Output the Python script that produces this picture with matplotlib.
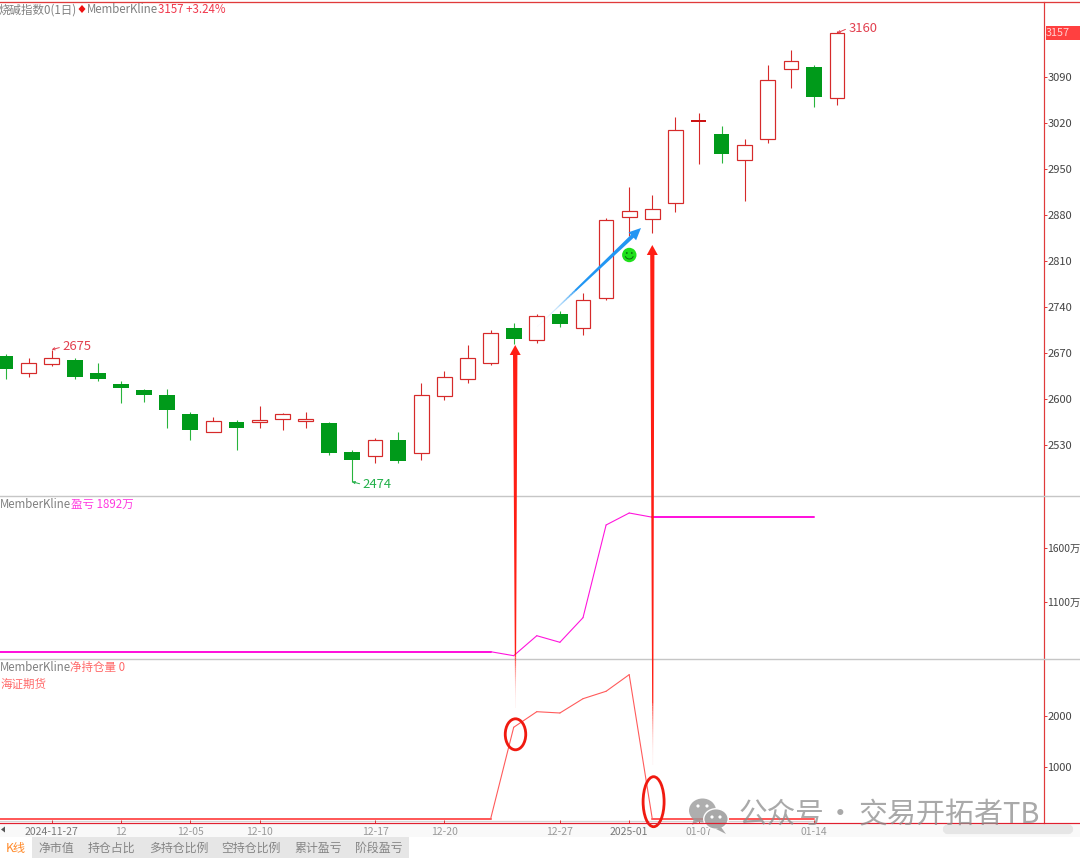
import matplotlib
matplotlib.use("Agg")
import matplotlib.pyplot as plt
import numpy as np
from matplotlib.collections import LineCollection
from matplotlib.patches import Arc, Circle, Ellipse, FancyBboxPatch, Polygon, Rectangle

plt.rcParams["font.family"] = ["Noto Sans CJK SC", "DejaVu Sans"]

W, H = 1080, 858
PX = 0.72  # one pixel in points at dpi 100

# candles, oldest first
highs = [2668, 2662, 2675, 2662, 2655, 2628, 2615, 2615, 2580, 2572, 2568, 2590, 2579,
         2580, 2565, 2522, 2540, 2550, 2625, 2643, 2682, 2705, 2715, 2729, 2734, 2761,
         2875, 2922, 2911, 3029, 3036, 3016, 2995, 3108, 3131, 3109, 3160]
opens = [2665, 2639, 2653, 2659, 2640, 2622, 2614, 2606, 2577, 2549, 2565, 2565, 2569,
         2566, 2564, 2519, 2513, 2538, 2517, 2605, 2631, 2654, 2708, 2690, 2730, 2708,
         2753, 2877, 2874, 2898, 3023, 3004, 2963, 2996, 3102, 3106, 3058]
closes = [2646, 2655, 2663, 2634, 2630, 2616, 2606, 2583, 2553, 2566, 2555, 2568, 2577,
          2569, 2517, 2507, 2537, 2506, 2606, 2633, 2663, 2701, 2691, 2726, 2714, 2750,
          2872, 2886, 2889, 3009, 3023, 2973, 2987, 3085, 3114, 3059, 3157]
lows = [2630, 2634, 2650, 2631, 2628, 2594, 2595, 2556, 2538, 2549, 2522, 2555, 2552,
        2556, 2515, 2474, 2503, 2503, 2507, 2598, 2625, 2651, 2684, 2685, 2709, 2697,
        2750, 2848, 2852, 2885, 2958, 2959, 2901, 2990, 3074, 3045, 3048]

price_ticks = [3090, 3020, 2950, 2880, 2810, 2740, 2670, 2600, 2530]

# lower panels, first value sits one bar left of the visible window, last at index 35
pnl_wan = [640] * 23 + [603, 788, 727, 955, 1813, 1924] + [1885] * 8
net_pos = [0] * 23 + [1777, 2079, 2054, 2331, 2475, 2797] + [0] * 8
pnl_ticks = [1600, 1100]
pos_ticks = [2000, 1000]

date_idx = [2, 5, 8, 11, 16, 19, 24, 27, 30, 35]
date_labels = ["2024-11-27", "12", "12-05", "12-10", "12-17", "12-20", "12-27",
               "2025-01", "01-07", "01-14"]
tab_names = ["净市值", "持仓占比", "多持仓比例", "空持仓比例", "累计盈亏", "阶段盈亏"]
tab_x = [56.5, 111.5, 179, 251, 318, 379]

RED = "#d62a2a"
GREEN = "#009a1a"
GREEN_WICK = "#28b43c"
AXIS_RED = "#e03a3a"
MAGENTA = "#ff14dc"
SALMON = "#ff5a5a"
GRAY_TEXT = "#808080"

fig = plt.figure(figsize=(W / 100, H / 100), dpi=100, facecolor="white")


def px_axes(left, top, right, bottom, **kw):
    return fig.add_axes([left / W, 1 - bottom / H, (right - left) / W, (bottom - top) / H], **kw)


AX_RIGHT = 1043.5
X0, STEP = 5.5, 23.1
xlim = (-X0 / STEP, (AX_RIGHT - X0) / STEP)

bg = px_axes(0, 0, W, H, zorder=0)
ax_k = px_axes(0, 1.5, AX_RIGHT, 495.5, zorder=1)
ax_pnl = px_axes(0, 495.5, AX_RIGHT, 658.5, zorder=1)
ax_pos = px_axes(0, 658.5, AX_RIGHT, 822.7, zorder=1)
top = px_axes(0, 0, W, H, zorder=5)

for a in (bg, top):
    a.set_xlim(0, W)
    a.set_ylim(H, 0)
    a.axis("off")
top.patch.set_alpha(0)

for a in (ax_k, ax_pnl, ax_pos):
    a.patch.set_alpha(0)
    a.set_xlim(*xlim)
    for s in ("left", "top", "bottom"):
        a.spines[s].set_visible(False)
    a.spines["right"].set_color(AXIS_RED)
    a.spines["right"].set_linewidth(1.2 * PX)
    a.yaxis.tick_right()
    a.tick_params(axis="y", length=3 * PX, width=PX, color=AXIS_RED, labelsize=8,
                  labelcolor="#444444", pad=0.6)
    a.set_xticks([])

# k line panel
ax_k.set_ylim(2453, 3205)
ax_k.set_yticks(price_ticks)
o, c, hi, lo = map(np.array, (opens, closes, highs, lows))
x = np.arange(len(o))
up = c >= o
flat = c == o
ax_k.vlines(x[up], lo[up], hi[up], color=RED, lw=1.1 * PX, zorder=2)
ax_k.vlines(x[~up], lo[~up], hi[~up], color=GREEN_WICK, lw=1.1 * PX, zorder=2)
ax_k.bar(x[up & ~flat], (c - o)[up & ~flat], bottom=o[up & ~flat], width=0.64, facecolor="white",
         edgecolor=RED, linewidth=1.2 * PX, zorder=3)
ax_k.bar(x[~up], (c - o)[~up], bottom=o[~up], width=0.68, color=GREEN, zorder=3)
ax_k.hlines(c[flat], x[flat] - 0.32, x[flat] + 0.32, color="#cc1414", lw=2 * PX, zorder=3)


def extreme(text, i, value, color, dx, dy):
    ax_k.annotate(text, xy=(i, value), xytext=(dx, dy), textcoords="offset points", color=color,
                  fontsize=9.4, va="center",
                  arrowprops=dict(arrowstyle="->", color=color, lw=0.7, shrinkA=0, shrinkB=0,
                                  mutation_scale=4, relpos=(0, 0.5)))


extreme("2675", 2, 2675, "#e2404f", 7.5, 2)
extreme("2474", 15, 2474, "#22b04a", 7.5, -2)
extreme("3160", 36, 3157, "#e2404f", 8, 3.5)

# pnl panel
ax_pnl.set_ylim(577, 2086)
ax_pnl.set_yticks(pnl_ticks, [f"{v}万" for v in pnl_ticks])
ax_pnl.tick_params(axis="y", labelsize=7.4, pad=0.3)


def draw_series(ax, values, color):
    pts = np.column_stack([np.arange(len(values)) - 1, values])
    segs = [pts[i:i + 2] for i in range(len(pts) - 1)]
    widths = [2 * PX if values[i] == values[i + 1] else 1.1 * PX for i in range(len(segs))]
    ax.add_collection(LineCollection(segs, colors=color, linewidths=widths, capstyle="round"))


draw_series(ax_pnl, pnl_wan, MAGENTA)

# net position panel
ax_pos.set_ylim(-72, 3110)
ax_pos.set_yticks(pos_ticks)
draw_series(ax_pos, net_pos, SALMON)
ax_pos.set_xticks(date_idx, date_labels)
ax_pos.tick_params(axis="x", length=3 * PX, width=PX, color=AXIS_RED, direction="in",
                   labelsize=7.5, labelcolor="#9a9a9a", pad=3)
ax_pos.get_xticklabels()[7].set_color("#777777")
ax_pos.get_xticklabels()[0].set_color("#777777")

# frame lines and bottom strip
top.plot([0, W], [1.5, 1.5], color=AXIS_RED, lw=1.3 * PX)
top.plot([0, W], [495.5, 495.5], color="#c6c6c6", lw=1.4 * PX, zorder=0)
top.plot([0, W], [658.5, 658.5], color="#c6c6c6", lw=1.4 * PX, zorder=0)
top.plot([0, W], [822.7, 822.7], color="#e02030", lw=1.2 * PX)
bg.plot([0, 815], [820.5, 820.5], color="#d4d4d4", lw=1.2 * PX)
bg.add_patch(Rectangle((0, 823), W, 14, color="#f9f9f9", lw=0))
bg.add_patch(FancyBboxPatch((945, 826.5), 126, 5.5, boxstyle="round,pad=0,rounding_size=2.7",
                            mutation_aspect=1, facecolor="#e6e6e6", edgecolor="#e6e6e6", lw=3))
bg.add_patch(Polygon([(1, 829.5), (5, 826.5), (5, 832.5)], color="#555555", lw=0))
bg.add_patch(Rectangle((32, 837), 377, 21, color="#e6e6e6", lw=0))
bg.text(15.5, 848.5, "K线", color="#ff8a2a", fontsize=8.8, ha="center", va="center")
for name, tx in zip(tab_names, tab_x):
    bg.text(tx, 848.5, name, color="#858585", fontsize=8.6, ha="center", va="center")

# price tag
top.add_patch(Rectangle((1046, 26), 34, 14, color="#ff4040", lw=0))
top.text(1046, 33.5, "3157", color="#ffd0d0", fontsize=7.8, va="center")

# panel headers
def header(x_pos, y, text, color, size=8.3):
    top.text(x_pos, y + 0.8, text, color=color, fontsize=size, va="center")


header(-1, 9, "烧碱指数0(1日)", GRAY_TEXT)
top.add_patch(Polygon([(78.5, 9), (82, 5), (85.5, 9), (82, 13)], color="#f01010", lw=0))
header(87, 9, "MemberKline", GRAY_TEXT)
header(157.5, 9, "3157 +3.24%", "#f0384c")
header(0, 504, "MemberKline", GRAY_TEXT)
header(71, 504, "盈亏 1892万", "#ff3be0")
header(0, 667, "MemberKline", GRAY_TEXT)
header(70, 667, "净持仓量 0", "#ff6a6a")
header(0, 684, "海证期货", "#ff6a6a")


def fade_arrow(start, tip, color, w_tail, w_neck, head_w, head_len, fade=0.25):
    start, tip = np.array(start, float), np.array(tip, float)
    unit = (tip - start) / np.linalg.norm(tip - start)
    normal = np.array([-unit[1], unit[0]])
    neck = tip - unit * head_len
    solid = start + (neck - start) * fade
    w_solid = w_tail + (w_neck - w_tail) * fade

    # faded tail, then one tapered shaft and the head
    t = np.linspace(0, 1, 25)
    pts = start + (solid - start) * t[:, None]
    segs = [pts[i:i + 2] for i in range(len(pts) - 1)]
    rgba = np.tile(matplotlib.colors.to_rgba(color), (len(segs), 1))
    rgba[:, 3] = 0.05 + 0.85 * t[:-1] ** 2
    top.add_collection(LineCollection(segs, colors=rgba, capstyle="butt",
                                      linewidths=(w_tail + (w_solid - w_tail) * t[:-1]) * PX))
    top.add_patch(Polygon([solid + normal * w_solid / 2, neck + normal * w_neck / 2,
                           neck + normal * head_w / 2, tip, neck - normal * head_w / 2,
                           neck - normal * w_neck / 2, solid - normal * w_solid / 2],
                          color=color, lw=0))


fade_arrow((515.5, 708), (515.2, 345), "#ff1e14", 0.8, 4.4, 11, 10, fade=0.15)
fade_arrow((652.8, 765), (652.3, 245), "#ff1e14", 0.8, 4.2, 11, 10, fade=0.12)
fade_arrow((537, 327), (641, 228), "#2196f3", 0.5, 4, 11, 12, fade=0.4)

# smiley
top.add_patch(Circle((629.3, 255), 7.2, color="#1fe01a", lw=0))
top.add_patch(Arc((629.3, 255.5), 8, 7, theta1=10, theta2=170, color="#0a6a10", lw=0.7))
top.add_patch(Circle((626.8, 253), 0.9, color="#0a6a10", lw=0))
top.add_patch(Circle((631.8, 253), 0.9, color="#0a6a10", lw=0))

# hand drawn rings
top.add_patch(Ellipse((515.5, 734.3), 20.5, 31, fill=False, edgecolor="#f01a10", lw=2.8 * PX))
top.add_patch(Ellipse((653.6, 801.7), 21, 50, fill=False, edgecolor="#f01a10", lw=2.8 * PX))

# watermark
top.add_patch(Ellipse((702.5, 810.5), 27, 24, color="#9a9a9a", alpha=0.8, lw=0))
top.add_patch(Polygon([(694, 818), (692, 825), (700, 821)], color="#9a9a9a", alpha=0.8, lw=0))
top.add_patch(Ellipse((716, 819), 24.5, 20.5, facecolor="#a8a8a8", edgecolor="white", lw=1))
top.add_patch(Polygon([(721, 827), (726, 834), (716, 829)], color="#a8a8a8", lw=0))
for ex, ey in ((698, 806), (707, 806), (712, 817), (720, 817)):
    top.add_patch(Circle((ex, ey), 1.6, color="white", lw=0))
top.text(739, 815, "公众号", color="#8c8c8c", alpha=0.75, fontsize=20.6, va="center")
top.text(840, 815, "·", color="#8c8c8c", alpha=0.75, fontsize=20.6, va="center", ha="center")
top.text(859, 815, "交易开拓者TB", color="#8c8c8c", alpha=0.75, fontsize=20.9, va="center")

fig.savefig("out.png", dpi=100)
